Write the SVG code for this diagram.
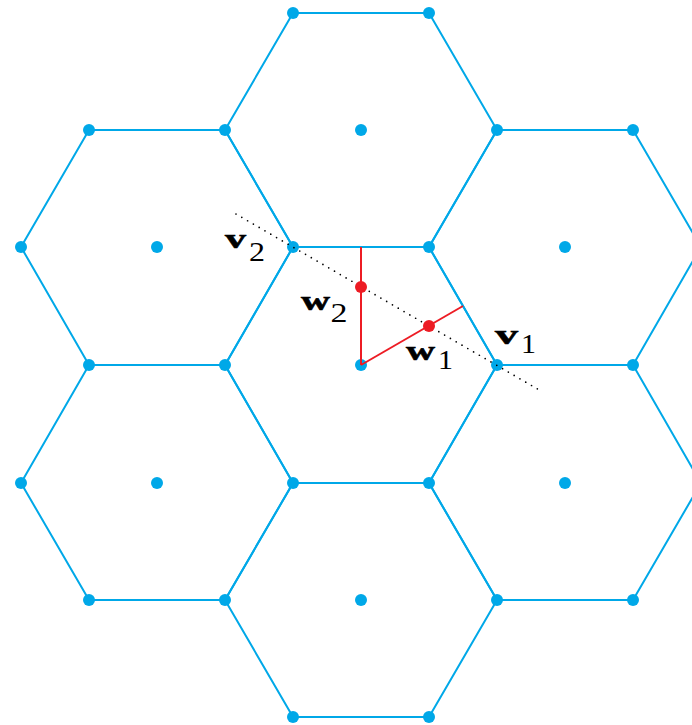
<svg xmlns="http://www.w3.org/2000/svg" width="692" height="725" viewBox="0 0 692 725">
<style>
.hex{fill:none;stroke:#00a8e8;stroke-width:2;stroke-linejoin:round}
.dot{fill:#00a8e8}
.red{stroke:#ed1c24;stroke-width:2;fill:none}
.rdot{fill:#ed1c24}
.dotted{stroke:#000;stroke-width:1.7;stroke-linecap:round;stroke-dasharray:0 6.7;fill:none}
.lb{font-family:"Liberation Serif","DejaVu Serif",serif;font-weight:bold;font-size:28px;fill:#000;stroke:#000;stroke-width:0.6}
.sb{font-family:"Liberation Serif","DejaVu Serif",serif;font-size:28px;fill:#000}
</style>
<rect width="692" height="725" fill="#fff"/>
<g id="hex-top"><polygon class="hex" points="293,13 429,13 497,130 429,247 293,247 225,130"/><circle class="dot" cx="361" cy="130" r="6"/></g>
<g id="hex-top-left"><polygon class="hex" points="89,130 225,130 293,247 225,365 89,365 21,247"/><circle class="dot" cx="157" cy="247" r="6"/></g>
<g id="hex-top-right"><polygon class="hex" points="497,130 633,130 701,247 633,365 497,365 429,247"/><circle class="dot" cx="565" cy="247" r="6"/></g>
<g id="hex-center"><polygon class="hex" points="293,247 429,247 497,365 429,483 293,483 225,365"/><circle class="dot" cx="361" cy="365" r="6"/></g>
<g id="hex-bottom-left"><polygon class="hex" points="89,365 225,365 293,483 225,600 89,600 21,483"/><circle class="dot" cx="157" cy="483" r="6"/></g>
<g id="hex-bottom-right"><polygon class="hex" points="497,365 633,365 701,483 633,600 497,600 429,483"/><circle class="dot" cx="565" cy="483" r="6"/></g>
<g id="hex-bottom"><polygon class="hex" points="293,483 429,483 497,600 429,717 293,717 225,600"/><circle class="dot" cx="361" cy="600" r="6"/></g>
<g id="vertices">
<circle class="dot" cx="293" cy="13" r="6"/><circle class="dot" cx="429" cy="13" r="6"/>
<circle class="dot" cx="89" cy="130" r="6"/><circle class="dot" cx="225" cy="130" r="6"/><circle class="dot" cx="497" cy="130" r="6"/><circle class="dot" cx="633" cy="130" r="6"/>
<circle class="dot" cx="21" cy="247" r="6"/><circle class="dot" cx="293" cy="247" r="6"/><circle class="dot" cx="429" cy="247" r="6"/>
<circle class="dot" cx="89" cy="365" r="6"/><circle class="dot" cx="225" cy="365" r="6"/><circle class="dot" cx="497" cy="365" r="6"/><circle class="dot" cx="633" cy="365" r="6"/>
<circle class="dot" cx="21" cy="483" r="6"/><circle class="dot" cx="293" cy="483" r="6"/><circle class="dot" cx="429" cy="483" r="6"/>
<circle class="dot" cx="89" cy="600" r="6"/><circle class="dot" cx="225" cy="600" r="6"/><circle class="dot" cx="497" cy="600" r="6"/><circle class="dot" cx="633" cy="600" r="6"/>
<circle class="dot" cx="293" cy="717" r="6"/><circle class="dot" cx="429" cy="717" r="6"/>
</g>
<g id="connectors">
<line class="red" x1="361" y1="365" x2="361" y2="247"/>
<line class="red" x1="361" y1="365" x2="463" y2="306"/>
<line class="dotted" x1="236" y1="214" x2="541" y2="391"/>
</g>
<g id="w-points">
<circle class="rdot" cx="361" cy="287" r="6"/>
<circle class="rdot" cx="429" cy="326" r="6"/>
</g>
<g id="labels">
<text class="lb" x="225" y="248.3" textLength="21" lengthAdjust="spacingAndGlyphs">v</text><text class="sb" x="249" y="260.7" textLength="16" lengthAdjust="spacingAndGlyphs">2</text>
<text class="lb" x="301" y="310" textLength="29" lengthAdjust="spacingAndGlyphs">w</text><text class="sb" x="330.5" y="321.7" textLength="17" lengthAdjust="spacingAndGlyphs">2</text>
<text class="lb" x="406" y="360" textLength="29" lengthAdjust="spacingAndGlyphs">w</text><text class="sb" x="438" y="369" textLength="15" lengthAdjust="spacingAndGlyphs">1</text>
<text class="lb" x="495" y="344" textLength="23" lengthAdjust="spacingAndGlyphs">v</text><text class="sb" x="521" y="353.3" textLength="15" lengthAdjust="spacingAndGlyphs">1</text>
</g>
</svg>
